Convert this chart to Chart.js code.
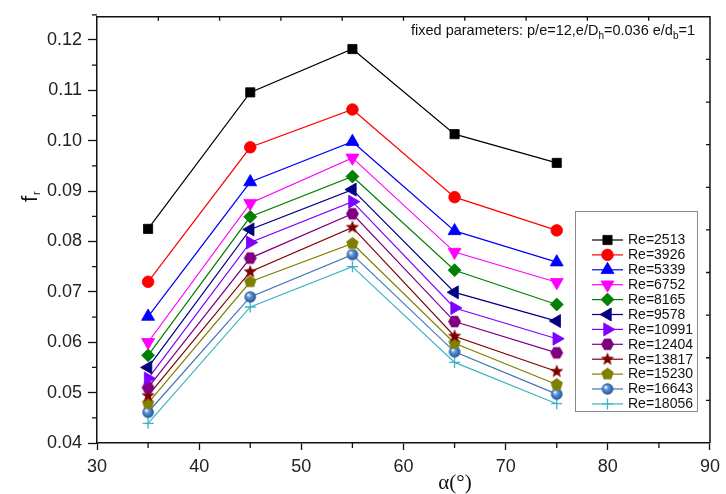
<!DOCTYPE html>
<html>
<head>
<meta charset="utf-8">
<script src="https://cdn.jsdelivr.net/npm/chart.js@4.4.1/dist/chart.umd.min.js"></script>
<style>
  html, body { margin: 0; padding: 0; background: #fff; }
  #wrap { width: 726px; height: 494px; }
</style>
</head>
<body>
<div id="wrap"><canvas id="frChart" width="726" height="494"></canvas></div>
<script>
// Data
const angles = [35, 45, 55, 65, 75];
const xTicks = [30, 40, 50, 60, 70, 80, 90];
const yTicks = [0.04, 0.05, 0.06, 0.07, 0.08, 0.09, 0.10, 0.11, 0.12];
const reLabels = ['Re=2513', 'Re=3926', 'Re=5339', 'Re=6752', 'Re=8165', 'Re=9578',
  'Re=10991', 'Re=12404', 'Re=13817', 'Re=15230', 'Re=16643', 'Re=18056'];

const re2513  = [0.0825, 0.1096, 0.1182, 0.1013, 0.0956];
const re3926  = [0.0720, 0.0987, 0.1062, 0.0888, 0.0822];
const re5339  = [0.0651, 0.0918, 0.0998, 0.0821, 0.0759];
const re6752  = [0.0600, 0.0876, 0.0966, 0.0779, 0.0719];
const re8165  = [0.0574, 0.0849, 0.0929, 0.0743, 0.0675];
const re9578  = [0.0550, 0.0824, 0.0903, 0.0699, 0.0642];
const re10991 = [0.0528, 0.0798, 0.0879, 0.0668, 0.0607];
const re12404 = [0.0510, 0.0767, 0.0855, 0.0641, 0.0579];
const re13817 = [0.0494, 0.0740, 0.0828, 0.0612, 0.0542];
const re15230 = [0.0479, 0.0720, 0.0796, 0.0598, 0.0516];
const re16643 = [0.0461, 0.0690, 0.0774, 0.0581, 0.0497];
const re18056 = [0.0439, 0.0670, 0.0750, 0.0560, 0.0478];

const series = [re2513, re3926, re5339, re6752, re8165, re9578,
  re10991, re12404, re13817, re15230, re16643, re18056];

// marker images for shapes chart.js doesn't have
function makeMarker(size, draw) {
  const c = document.createElement('canvas');
  c.width = size; c.height = size;
  draw(c.getContext('2d'), size / 2);
  return c;
}
function polygon(g, cx, r, n, start, color) {
  g.beginPath();
  for (let i = 0; i < n; i++) {
    const a = start + i * 2 * Math.PI / n;
    const px = cx + r * Math.cos(a), py = cx + r * Math.sin(a);
    if (i === 0) g.moveTo(px, py); else g.lineTo(px, py);
  }
  g.closePath();
  g.fillStyle = color;
  g.fill();
}
const hexMark = makeMarker(15, (g, c) => polygon(g, c, 6.5, 6, 0, '#800080'));
const pentMark = makeMarker(15, (g, c) => polygon(g, c, 6.5, 5, -Math.PI / 2, '#808000'));
const starMark = makeMarker(16, (g, c) => {
  g.beginPath();
  for (let i = 0; i < 10; i++) {
    const r = i % 2 === 0 ? 7 : 3;
    const a = -Math.PI / 2 + i * Math.PI / 5;
    const px = c + r * Math.cos(a), py = c + r * Math.sin(a);
    if (i === 0) g.moveTo(px, py); else g.lineTo(px, py);
  }
  g.closePath();
  g.fillStyle = '#800000';
  g.fill();
});
const sphereMark = makeMarker(14, (g, c) => {
  const grad = g.createRadialGradient(c - 2, c - 2, 0.5, c, c, 6);
  grad.addColorStop(0, '#e6f0fb');
  grad.addColorStop(0.35, '#5b93d3');
  grad.addColorStop(1, '#1f4f8f');
  g.beginPath();
  g.arc(c, c, 5.8, 0, Math.PI * 2);
  g.fillStyle = grad;
  g.fill();
});

const styles = [
  { color: '#000000', style: 'rect', radius: 6.5, rot: 0 },
  { color: '#ff0000', style: 'circle', radius: 5.8, rot: 0 },
  { color: '#0000ff', style: 'triangle', radius: 7.5, rot: 0 },
  { color: '#ff00ff', style: 'triangle', radius: 7.5, rot: 180 },
  { color: '#008000', style: 'rectRot', radius: 6.5, rot: 0 },
  { color: '#000080', style: 'triangle', radius: 7.5, rot: 270 },
  { color: '#8000ff', style: 'triangle', radius: 7.5, rot: 90 },
  { color: '#800080', style: hexMark, radius: 6.5, rot: 0 },
  { color: '#800000', style: starMark, radius: 7, rot: 0 },
  { color: '#808000', style: pentMark, radius: 6.5, rot: 0 },
  { color: '#3f76b6', style: sphereMark, radius: 6, rot: 0 },
  { color: '#3cb4c4', style: 'cross', radius: 5.5, rot: 0 }
];

const datasets = series.map((vals, i) => ({
  label: reLabels[i],
  data: angles.map((a, j) => ({ x: a, y: vals[j] })),
  borderColor: styles[i].color,
  backgroundColor: styles[i].color,
  borderWidth: 1.2,
  pointStyle: styles[i].style,
  pointRadius: styles[i].radius,
  pointRotation: styles[i].rot,
  pointBackgroundColor: styles[i].color,
  pointBorderColor: styles[i].color,
  pointBorderWidth: styles[i].style === 'cross' ? 1.3 : 0.8,
  tension: 0
}));

// frame, minor ticks, titles, annotation and legend
const decorPlugin = {
  id: 'decor',
  afterDraw(chart) {
    const ctx = chart.ctx;
    const { left, right, top, bottom } = chart.chartArea;
    const xs = chart.scales.x, ys = chart.scales.y;
    ctx.save();
    ctx.strokeStyle = '#111';
    ctx.lineWidth = 1.5;
    ctx.beginPath();
    ctx.moveTo(left, top); ctx.lineTo(right, top); ctx.lineTo(right, bottom);
    ctx.stroke();

    // minor ticks
    ctx.lineWidth = 1.3;
    ctx.beginPath();
    for (let v = 35; v < 90; v += 10) {
      const px = xs.getPixelForValue(v);
      ctx.moveTo(px, bottom); ctx.lineTo(px, bottom + 5);
    }
    for (let v = 0.045; v < 0.125; v += 0.01) {
      const py = ys.getPixelForValue(v);
      ctx.moveTo(left, py); ctx.lineTo(left - 5, py);
    }
    // inward ticks on top and right
    for (let k = 1; k < 10; k++) {
      const px = left + (right - left) * k / 10;
      ctx.moveTo(px, top); ctx.lineTo(px, top + 4);
      const py = top + (bottom - top) * k / 10;
      ctx.moveTo(right, py); ctx.lineTo(right - 4, py);
    }
    ctx.stroke();

    // axis titles
    ctx.fillStyle = '#111';
    ctx.font = '21px "Liberation Serif"';
    ctx.textAlign = 'center';
    ctx.textBaseline = 'middle';
    ctx.fillText('\u03b1(\u00b0)', 455, 483);

    ctx.save();
    ctx.translate(31, 196);
    ctx.rotate(-Math.PI / 2);
    ctx.textAlign = 'left';
    ctx.font = '22px "Liberation Sans"';
    ctx.fillText('f', -6, 0);
    ctx.font = '11px "Liberation Sans"';
    ctx.fillText('r', 1, 6);
    ctx.restore();

    // annotation with subscripts
    const parts = [
      ['fixed parameters: p/e=12,e/D', false], ['h', true],
      ['=0.036 e/d', false], ['b', true], ['=1', false]
    ];
    let tx = 411;
    ctx.textAlign = 'left';
    for (const [t, sub] of parts) {
      ctx.font = sub ? '10px "Liberation Sans"' : '14.5px "Liberation Sans"';
      ctx.fillText(t, tx, sub ? 36 : 31);
      tx += ctx.measureText(t).width;
    }

    // legend box
    ctx.strokeStyle = '#888';
    ctx.lineWidth = 1;
    ctx.strokeRect(575.5, 211.5, 122, 200);
    chart.data.datasets.forEach((ds, i) => {
      const y = 240 + i * 14.9;
      ctx.strokeStyle = ds.borderColor;
      ctx.lineWidth = 1.2;
      ctx.beginPath();
      ctx.moveTo(592, y); ctx.lineTo(623, y);
      ctx.stroke();
      ctx.fillStyle = ds.pointBackgroundColor;
      ctx.lineWidth = ds.pointBorderWidth;
      Chart.helpers.drawPoint(ctx, {
        pointStyle: ds.pointStyle,
        rotation: ds.pointRotation,
        radius: ds.pointRadius,
        borderWidth: ds.pointBorderWidth
      }, 607.5, y);
      ctx.fillStyle = '#111';
      ctx.font = '14px "Liberation Sans"';
      ctx.textBaseline = 'middle';
      ctx.fillText(ds.label, 628, y + 0.5);
    });
    ctx.restore();
  }
};

new Chart(document.getElementById('frChart'), {
  type: 'line',
  data: { datasets },
  options: {
    responsive: false,
    animation: false,
    devicePixelRatio: 1,
    layout: { padding: { top: 11, right: 13, left: 0, bottom: 0 } },
    plugins: { legend: { display: false }, tooltip: { enabled: false } },
    scales: {
      x: {
        type: 'linear',
        min: 30, max: 90,
        afterBuildTicks: (s) => { s.ticks = xTicks.map(v => ({ value: v })); },
        afterFit: (s) => { s.height = 51; },
        grid: { drawOnChartArea: false, tickLength: 7, tickWidth: 1.3, tickColor: '#111' },
        border: { color: '#111', width: 1.5 },
        ticks: { padding: 6, color: '#222', font: { family: 'Liberation Sans', size: 18 }, maxRotation: 0 }
      },
      y: {
        type: 'linear',
        min: 0.04, max: 0.1246,
        afterBuildTicks: (s) => { s.ticks = yTicks.map(v => ({ value: v })); },
        afterFit: (s) => { s.width = 97; },
        grid: { drawOnChartArea: false, tickLength: 9, tickWidth: 1.3, tickColor: '#111' },
        border: { color: '#111', width: 1.5 },
        ticks: {
          padding: 6, color: '#222', font: { family: 'Liberation Sans', size: 18 },
          callback: (v) => v.toFixed(2)
        }
      }
    }
  },
  plugins: [decorPlugin]
});
</script>
</body>
</html>
